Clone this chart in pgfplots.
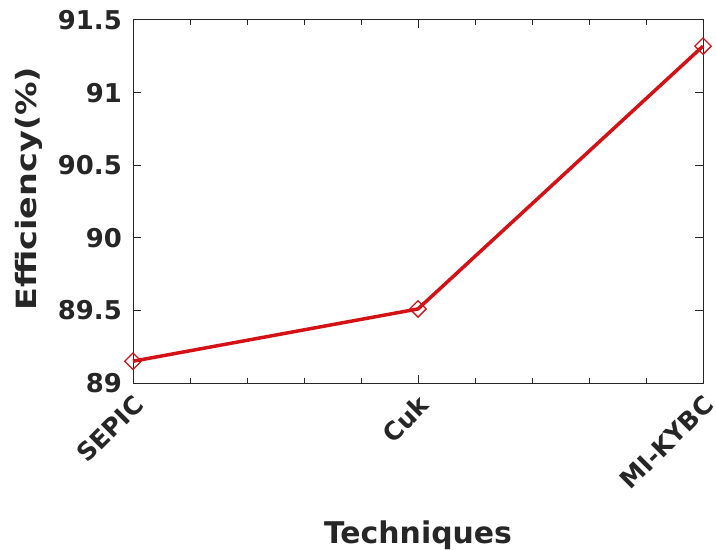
\documentclass[border=0pt]{standalone}
\usepackage{pgfplots}
\pgfplotsset{compat=1.18}
\usepackage{fontspec}
\setmainfont{DejaVu Sans}
\definecolor{txt}{RGB}{38,38,38}
\definecolor{lred}{RGB}{212,18,22}
\begin{document}
\begin{tikzpicture}
\useasboundingbox (0,0) rectangle (716bp,550bp);
\begin{axis}[
  at={(133bp,167bp)}, anchor=south west,
  scale only axis,
  width=570bp, height=363bp,
  xmin=0, xmax=2, ymin=89, ymax=91.5,
  xtick={0,1,2},
  xticklabels={SEPIC,Cuk,MI-KYBC},
  minor xtick={0.2,0.4,0.6,0.8,1.2,1.4,1.6,1.8},
  ytick={89,89.5,90,90.5,91,91.5},
  yticklabels={89,89.5,90,90.5,91,91.5},
  tick align=inside,
  major tick length=8bp, minor tick length=5bp,
  axis line style={color=txt, line width=1bp},
  every tick/.style={color=txt, line width=1bp},
  xticklabel style={yshift=-9bp, xshift=-1bp, rotate=45, anchor=north east, font=\fontsize{25}{30}\selectfont\bfseries, text=txt, inner sep=1pt},
  yticklabel style={inner sep=0pt, xshift=-11bp, font=\fontsize{26}{30}\selectfont\bfseries, text=txt},
  xlabel={Techniques}, ylabel={\scalebox{1.2}[1]{Efficiency(\%)}},
  xlabel style={font=\fontsize{30}{34}\selectfont\bfseries, text=txt, at={(axis description cs:0.5,-0.4408)}, anchor=base},
  ylabel style={font=\fontsize{28}{32}\selectfont\bfseries, text=txt, at={(axis description cs:-0.170,0.535)}, anchor=base, rotate=0},
  clip=false,
]
\addplot[color=lred, line width=3.5bp, mark=square, mark size=5.8bp, mark options={rotate=45, line width=1.3bp, fill=none, solid}]
  coordinates {(0,89.15) (1,89.51) (2,91.32)};
\end{axis}
\end{tikzpicture}
\end{document}
